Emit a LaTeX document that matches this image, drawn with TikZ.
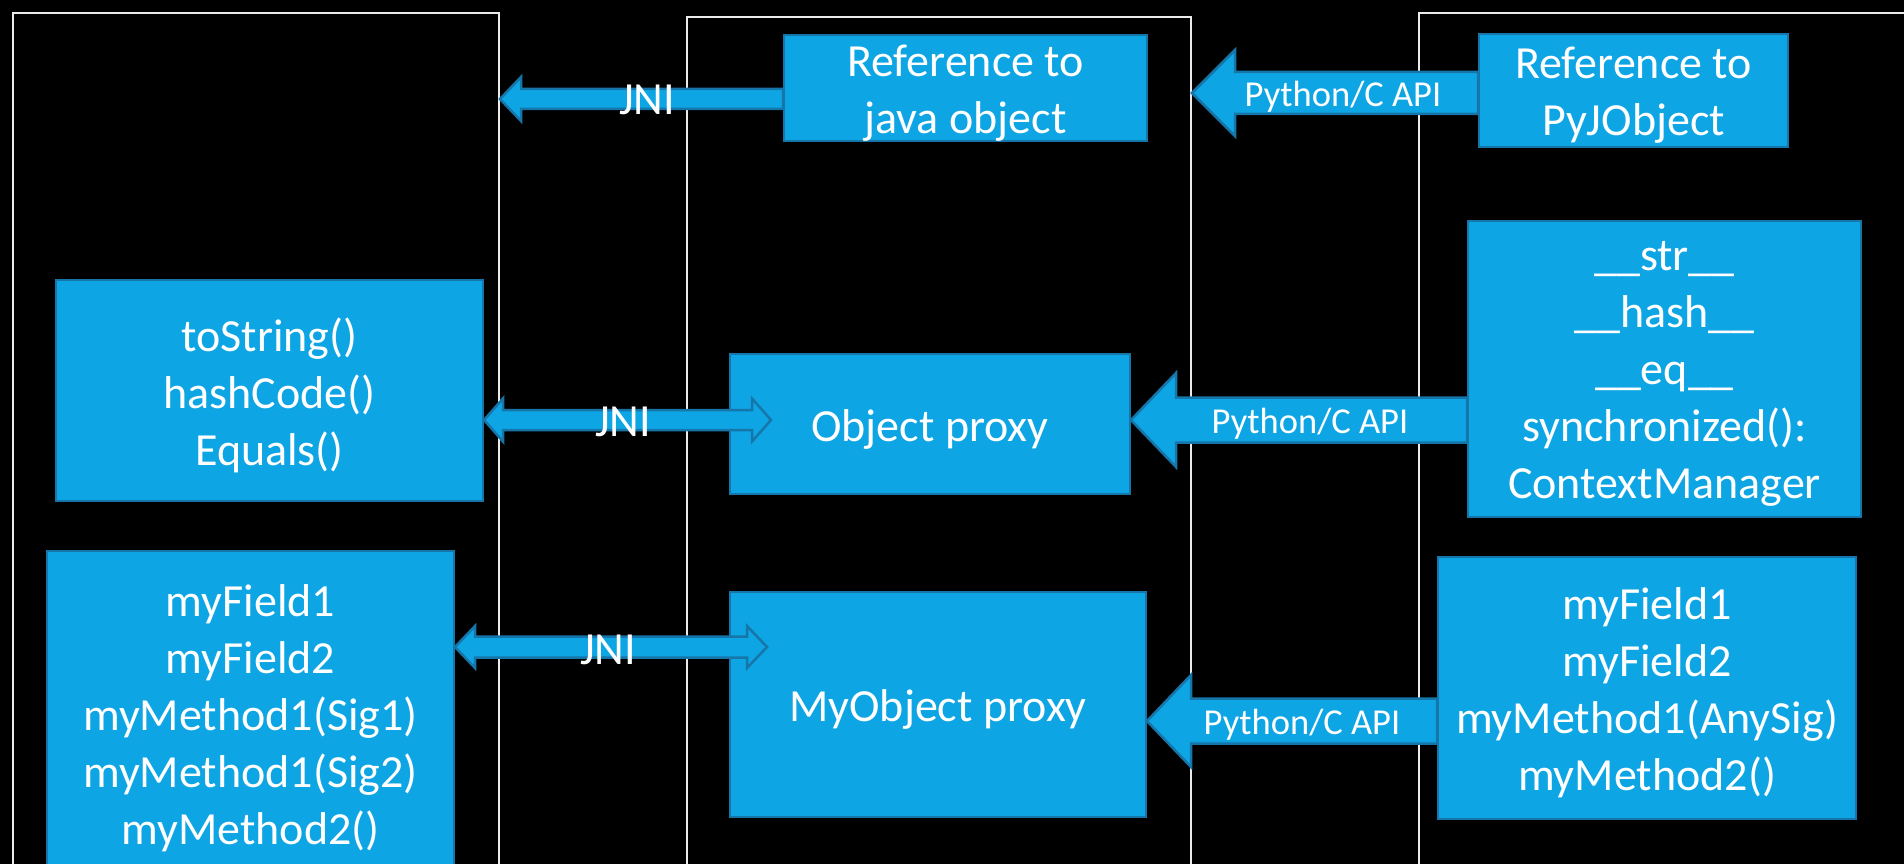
\documentclass[tikz,border=0pt]{standalone}
\usepackage{fontspec}
\setmainfont{Carlito}
\usetikzlibrary{calc}
\definecolor{boxblue}{RGB}{14,165,228}
\definecolor{edgeblue}{RGB}{22,118,170}
\definecolor{panelline}{RGB}{235,235,235}
\tikzset{
 panel/.style={draw=panelline, line width=2pt, anchor=north west, inner sep=0pt},
 bluebox/.style={draw=edgeblue, fill=boxblue, line width=2pt, anchor=north west, inner sep=0pt},
 boxtext/.style={text=white, inner sep=0pt, align=center, yshift=-5pt, font=\fontsize{46}{57}\selectfont},
 blockarrow/.style={draw=edgeblue, fill=boxblue, line width=2.5pt, line join=miter},
 jnilabel/.style={text=white, font=\fontsize{46}{56}\selectfont, inner sep=0pt},
 apilabel/.style={text=white, font=\fontsize{36.5}{44}\selectfont, inner sep=0pt},
}
% #1 tail, #2 tip (pointing left), #3 shaft half width, #4 head half width, #5 head length
\newcommand\leftblock[5]{%
 \path[blockarrow] let \p1=(#1), \p2=(#2) in
  (\x2,\y2) -- (\x2+#5pt,\y2+#4pt) -- (\x2+#5pt,\y2+#3pt) -- (\x1,\y2+#3pt)
  -- (\x1,\y2-#3pt) -- (\x2+#5pt,\y2-#3pt) -- (\x2+#5pt,\y2-#4pt) -- cycle;}
% #1 left tip, #2 right tip
\newcommand\bothblock[5]{%
 \path[blockarrow] let \p1=(#1), \p2=(#2) in
  (\x1,\y1) -- (\x1+#5pt,\y1+#4pt) -- (\x1+#5pt,\y1+#3pt) -- (\x2-#5pt,\y1+#3pt)
  -- (\x2-#5pt,\y1+#4pt) -- (\x2,\y1) -- (\x2-#5pt,\y1-#4pt) -- (\x2-#5pt,\y1-#3pt)
  -- (\x1+#5pt,\y1-#3pt) -- (\x1+#5pt,\y1-#4pt) -- cycle;}
\begin{document}
\begin{tikzpicture}[x=1pt,y=-1pt]
\fill[black] (0,0) rectangle (1904,864);
\useasboundingbox (0,0) rectangle (1904,864);
% panels
\node[panel, minimum width=486pt, minimum height=900pt] (lp) at (12,12) {};
\node[panel, minimum width=504pt, minimum height=900pt] (mp) at (686,16) {};
\node[panel, minimum width=600pt, minimum height=900pt] (rp) at (1418,12) {};
% boxes
\node[bluebox, minimum width=363pt, minimum height=106pt,
  label={[boxtext]center:Reference to\\java object}] (refjava) at (783,34) {};
\node[bluebox, minimum width=309pt, minimum height=113pt,
  label={[boxtext]center:Reference to\\PyJObject}] (refpy) at (1478,33) {};
\node[bluebox, minimum width=427pt, minimum height=221pt,
  label={[boxtext]center:toString()\\hashCode()\\Equals()}] (tostr) at (55,279) {};
\node[bluebox, minimum width=407pt, minimum height=324pt,
  label={[boxtext]center:myField1\\myField2\\myMethod1(Sig1)\\myMethod1(Sig2)\\myMethod2()}] (lfields) at (46,550) {};
\node[bluebox, minimum width=400pt, minimum height=140pt,
  label={[boxtext]center:Object proxy}] (objproxy) at (729,353) {};
\node[bluebox, minimum width=416pt, minimum height=225pt,
  label={[boxtext]center:MyObject proxy}] (myproxy) at (729,591) {};
\node[bluebox, minimum width=393pt, minimum height=296pt,
  label={[boxtext]center:\_\_str\_\_\\\_\_hash\_\_\\\_\_eq\_\_\\synchronized():\\ContextManager}] (dunder) at (1467,220) {};
\node[bluebox, minimum width=418pt, minimum height=262pt,
  label={[boxtext]center:myField1\\myField2\\myMethod1(AnySig)\\myMethod2()}] (rfields) at (1437,556) {};
% arrow end points
\coordinate (j1tail) at (refjava.west |- 0,99);
\coordinate (j1tip) at (lp.east |- 0,99);
\coordinate (p1tail) at (refpy.west |- 0,93);
\coordinate (p1tip) at (mp.east |- 0,93);
\coordinate (j2l) at (tostr.east |- 0,420);
\coordinate (j2r) at (771,420);
\coordinate (p2tail) at (dunder.west |- 0,420);
\coordinate (p2tip) at (objproxy.east |- 0,420);
\coordinate (j3l) at (lfields.east |- 0,647);
\coordinate (j3r) at (767,647);
\coordinate (p3tail) at (rfields.west |- 0,721);
\coordinate (p3tip) at (myproxy.east |- 0,721);
% arrows
\leftblock{j1tail}{j1tip}{10}{22}{21}
\leftblock{p1tail}{p1tip}{21}{43}{43}
\bothblock{j2l}{j2r}{10}{21.5}{19}
\leftblock{p2tail}{p2tip}{22.5}{47}{45}
\bothblock{j3l}{j3r}{10.5}{21}{20}
\leftblock{p3tail}{p3tip}{22.5}{46}{44}
% labels
\node[jnilabel] (jni1) at (647,100) {JNI};
\node[jnilabel] (jni2) at (623,422) {JNI};
\node[jnilabel] (jni3) at (608,650) {JNI};
\node[apilabel] (api1) at (1343,97) {Python/C API};
\node[apilabel] (api2) at (1310,424) {Python/C API};
\node[apilabel] (api3) at (1302,725) {Python/C API};
\end{tikzpicture}
\end{document}
